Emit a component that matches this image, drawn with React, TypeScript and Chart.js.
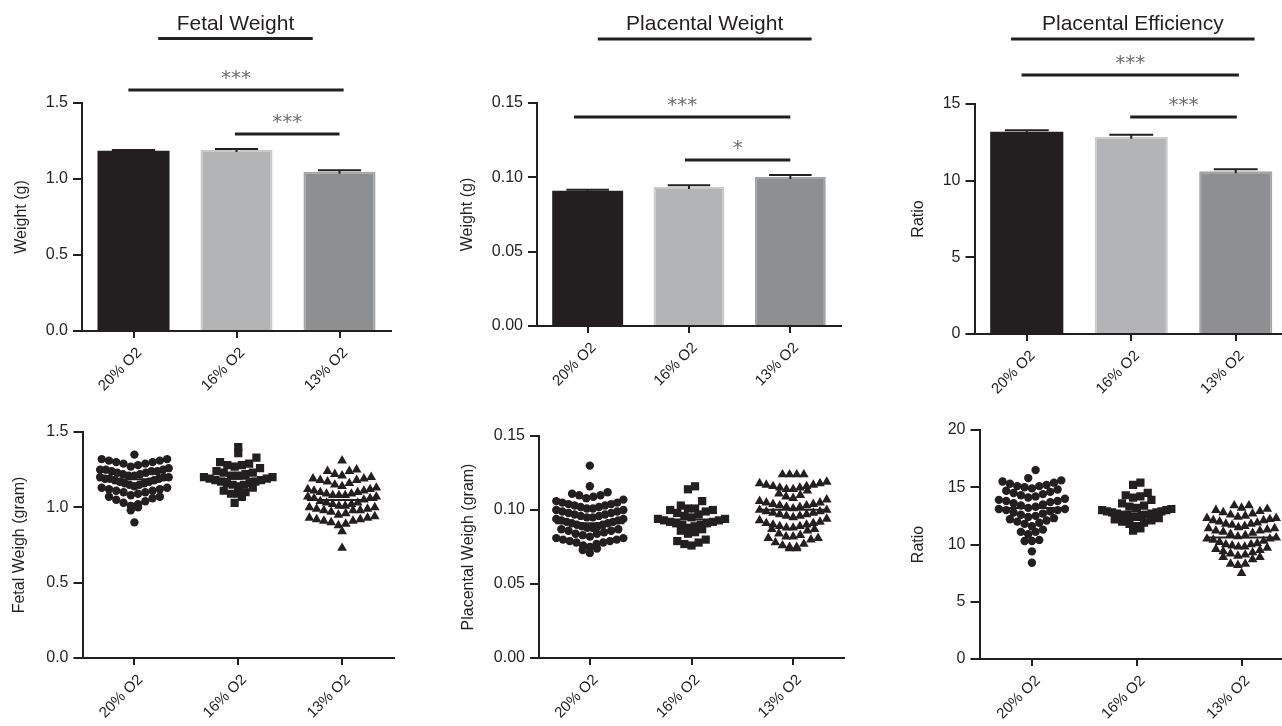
import React, { useEffect, useRef } from 'react';
import { Chart, registerables } from 'chart.js';

Chart.register(...registerables);

const INK = '#231f20';
const STAR = '#6d6e71';
const FONT = "'Liberation Sans', Arial, Helvetica, sans-serif";
const STAR_FONT = "'DejaVu Sans', 'Liberation Sans', sans-serif";
Chart.defaults.font.family = FONT;

// ---------- data ----------
const categories = ['20% O2', '16% O2', '13% O2'];

const fetalMeans = [1.186, 1.19, 1.048];
const fetalSem = [0.004, 0.008, 0.009];
const placentalMeans = [0.091, 0.0935, 0.1002];
const placentalSem = [0.0007, 0.0012, 0.0014];
const ratioMeans = [13.19, 12.87, 10.61];
const ratioSem = [0.1, 0.12, 0.13];

const fetalTicks = [0, 0.5, 1.0, 1.5];
const placentalTicks = [0, 0.05, 0.1, 0.15];
const ratioBarTicks = [0, 5, 10, 15];
const ratioDotTicks = [0, 5, 10, 15, 20];

const fetal20 = [
  1.35,
  1.32, 1.32, 1.31, 1.31, 1.3, 1.3, 1.29, 1.29, 1.28,
  1.27, 1.26, 1.25, 1.25, 1.25, 1.24, 1.24, 1.24, 1.23, 1.23,
  1.22, 1.22, 1.21, 1.21, 1.2, 1.2, 1.2, 1.19, 1.19, 1.19, 1.18, 1.18,
  1.17, 1.17, 1.16, 1.16, 1.15, 1.15, 1.14, 1.13, 1.13,
  1.12, 1.12, 1.11, 1.11, 1.1, 1.1, 1.09, 1.08,
  1.07, 1.07, 1.06, 1.05, 1.04, 1.03,
  1.02, 1.01, 1.0, 0.98,
  0.9,
];
const fetal16 = [
  1.4, 1.36, 1.33, 1.3, 1.29, 1.28, 1.28, 1.27, 1.26, 1.24, 1.23, 1.23,
  1.22, 1.21, 1.21, 1.2, 1.2, 1.19, 1.19, 1.18, 1.18,
  1.17, 1.17, 1.16, 1.16, 1.15, 1.15, 1.14, 1.13,
  1.11, 1.1, 1.09, 1.09, 1.07, 1.03,
];
const fetal13 = [
  1.31, 1.25, 1.24, 1.24,
  1.22, 1.21, 1.2, 1.19, 1.19, 1.18, 1.18,
  1.17, 1.16, 1.15, 1.14, 1.13,
  1.12, 1.12, 1.11, 1.11, 1.1, 1.1, 1.09, 1.09, 1.08, 1.08, 1.08,
  1.07, 1.07, 1.06, 1.06, 1.05, 1.04, 1.03, 1.03,
  1.02, 1.02, 1.01, 1.01, 1.0, 1.0, 0.99, 0.99, 0.98, 0.98, 0.98,
  0.97, 0.96, 0.95, 0.94, 0.93, 0.93,
  0.92, 0.92, 0.91, 0.91, 0.9, 0.89, 0.88,
  0.84, 0.73,
];

const placental20 = [
  0.13, 0.116,
  0.112, 0.111, 0.11, 0.11, 0.109, 0.108,
  0.107, 0.106, 0.105, 0.105, 0.104, 0.104, 0.103, 0.103,
  0.102, 0.102, 0.101, 0.101, 0.1, 0.1, 0.099, 0.099, 0.098, 0.098,
  0.097, 0.097, 0.096, 0.096, 0.095, 0.095, 0.094, 0.094, 0.093, 0.093, 0.092,
  0.092, 0.091, 0.091, 0.09, 0.09, 0.089, 0.089, 0.088, 0.088,
  0.087, 0.087, 0.086, 0.086, 0.085, 0.084, 0.084, 0.083,
  0.082, 0.081, 0.081, 0.08, 0.08, 0.079, 0.079, 0.078, 0.078,
  0.077, 0.076, 0.075, 0.074, 0.073, 0.071,
];
const placental16 = [
  0.116, 0.114, 0.106, 0.103,
  0.101, 0.101, 0.1, 0.1, 0.099, 0.098,
  0.097, 0.096, 0.095, 0.094, 0.094, 0.093, 0.093,
  0.092, 0.092, 0.091, 0.091, 0.09, 0.09, 0.089, 0.088,
  0.087, 0.086, 0.085, 0.084, 0.08, 0.079, 0.078, 0.077, 0.076,
];
const placental13 = [
  0.124, 0.124, 0.124, 0.124,
  0.119, 0.118, 0.118,
  0.117, 0.117, 0.116, 0.116, 0.115, 0.115, 0.114, 0.114, 0.113,
  0.111, 0.11, 0.109, 0.108,
  0.107, 0.106, 0.105, 0.105, 0.104, 0.104, 0.103, 0.103,
  0.102, 0.102, 0.101, 0.1, 0.1, 0.099, 0.099, 0.098, 0.098,
  0.097, 0.097, 0.096, 0.096, 0.095, 0.094, 0.093,
  0.092, 0.091, 0.091, 0.09, 0.09, 0.089, 0.089, 0.088, 0.088,
  0.087, 0.087, 0.086, 0.084, 0.083,
  0.082, 0.082, 0.081, 0.081, 0.08, 0.078,
  0.077, 0.076, 0.075, 0.075, 0.074, 0.074,
];

const ratio20 = [
  16.5,
  15.8, 15.6, 15.5, 15.4, 15.3,
  15.2, 15.1, 15.1, 15.0, 14.9, 14.8, 14.7,
  14.6, 14.5, 14.4, 14.3, 14.2, 14.1, 14.0,
  13.9, 13.8, 13.8, 13.7, 13.6, 13.5, 13.4,
  13.3, 13.2, 13.1, 13.1, 13.0, 13.0, 12.9, 12.8, 12.7,
  12.6, 12.5, 12.4, 12.3, 12.2, 12.1,
  12.0, 11.9, 11.8, 11.6,
  11.3, 11.1, 11.1, 10.9,
  10.4, 10.3, 10.3,
  9.4, 8.4,
];
const ratio16 = [
  15.4, 15.2, 14.5, 14.3, 14.2, 14.1, 13.9, 13.6, 13.4,
  13.3, 13.2, 13.1, 13.0, 13.0, 12.9, 12.9, 12.8, 12.8, 12.7, 12.7,
  12.6, 12.6, 12.5, 12.5, 12.4, 12.4, 12.3, 12.2, 12.1,
  12.0, 11.9, 11.8, 11.6, 11.4, 11.2,
];
const ratio13 = [
  13.4, 13.4,
  13.2, 13.1, 13.0, 12.9, 12.8, 12.7,
  12.6, 12.5, 12.4, 12.3, 12.3, 12.2, 12.1, 12.1,
  12.0, 11.9, 11.8, 11.8, 11.7, 11.6, 11.5, 11.4, 11.4,
  11.3, 11.2, 11.2, 11.1, 11.0, 10.9, 10.8,
  10.7, 10.6, 10.5, 10.5, 10.4, 10.3, 10.2, 10.1,
  10.0, 10.0, 9.9, 9.8, 9.8, 9.7, 9.6, 9.5,
  9.4, 9.3, 9.2, 9.1, 9.0, 8.9, 8.9,
  8.7, 8.3, 8.3, 8.2,
  7.5,
];

// significance bars / headings, in (category index, value) units
const fetalHeading = { text: 'Fetal Weight', from: 0.24, to: 1.74, y: 1.924 };
const fetalSig = [
  { from: -0.05, to: 2.04, y: 1.585, label: '***' },
  { from: 0.985, to: 2.0, y: 1.296, label: '***' },
];
const placentalHeading = { text: 'Placental Weight', from: 0.1, to: 2.21, y: 0.193 };
const placentalSig = [
  { from: -0.135, to: 2.0, y: 0.1406, label: '***' },
  { from: 0.96, to: 2.0, y: 0.1117, label: '*' },
];
const ratioHeading = { text: 'Placental Efficiency', from: -0.15, to: 2.18, y: 19.24 };
const ratioSig = [
  { from: -0.05, to: 2.03, y: 16.89, label: '***' },
  { from: 0.99, to: 2.01, y: 14.15, label: '***' },
];

// ---------- styles ----------
const barFill = ['#231f20', '#b3b4b6', '#8e8f91'];
const barEdge = ['#231f20', '#c9cacc', '#a3a4a6'];
const barEdgeWidth = [0, 2, 2];
const markerStyles = ['circle', 'rect', 'triangle'];
const markerRadius = [4.2, 5.8, 5.6];

type Sig = { from: number; to: number; y: number; label: string };
type Heading = { text: string; from: number; to: number; y: number };
type Box = { cx: number; cy: number; l: number; r: number; t: number; b: number; gap: number };
type Spec = {
  kind: 'bar' | 'dot';
  box: Box;
  ticks: number[];
  decimals: number;
  yTitle: string;
  means: number[];
  sems?: number[];
  groups?: number[][];
  bin?: number;
  heading?: Heading;
  sig?: Sig[];
};

// GraphPad-like column scatter: values grouped in rows, lowest value of a row in the middle
function swarm(values: number[], center: number, bin: number, step = 0.07, maxHalf = 0.33) {
  const rows = new Map<number, number[]>();
  values.forEach((v) => {
    const k = Math.round(v / bin);
    if (!rows.has(k)) rows.set(k, []);
    rows.get(k)!.push(v);
  });
  const pts: { x: number; y: number }[] = [];
  rows.forEach((row) => {
    const sorted = [...row].sort((a, b) => a - b);
    const n = sorted.length;
    const s = n > 1 ? Math.min(step, (2 * maxHalf) / (n - 1)) : 0;
    const slots = Array.from({ length: n }, (_, k) => (k - (n - 1) / 2) * s).sort(
      (a, b) => Math.abs(a) - Math.abs(b) || a - b
    );
    sorted.forEach((v, j) => pts.push({ x: center + slots[j], y: v }));
  });
  return pts;
}

function annotations(spec: Spec) {
  return {
    id: 'annotations',
    afterDatasetsDraw(chart: any) {
      const ctx: CanvasRenderingContext2D = chart.ctx;
      const xs = chart.scales.x;
      const ys = chart.scales.y;
      ctx.save();
      ctx.strokeStyle = INK;
      ctx.fillStyle = INK;
      if (spec.kind === 'bar') {
        const meta = chart.getDatasetMeta(0);
        meta.data.forEach((el: any, i: number) => {
          const top = ys.getPixelForValue(spec.means[i] + (spec.sems ? spec.sems[i] : 0));
          const base = ys.getPixelForValue(spec.means[i]);
          const half = el.width * 0.3;
          ctx.lineWidth = 2;
          ctx.beginPath();
          ctx.moveTo(el.x, base + 2);
          ctx.lineTo(el.x, top);
          ctx.moveTo(el.x - half, top);
          ctx.lineTo(el.x + half, top);
          ctx.stroke();
        });
      } else {
        spec.means.forEach((m, i) => {
          const y = ys.getPixelForValue(m);
          ctx.lineWidth = 2;
          ctx.beginPath();
          ctx.moveTo(xs.getPixelForValue(i - 0.34), y);
          ctx.lineTo(xs.getPixelForValue(i + 0.34), y);
          ctx.stroke();
        });
      }
      if (spec.heading) {
        const h = spec.heading;
        const x1 = xs.getPixelForValue(h.from);
        const x2 = xs.getPixelForValue(h.to);
        const y = ys.getPixelForValue(h.y);
        ctx.lineWidth = 3;
        ctx.beginPath();
        ctx.moveTo(x1, y);
        ctx.lineTo(x2, y);
        ctx.stroke();
        ctx.font = `21px ${FONT}`;
        ctx.textAlign = 'center';
        ctx.textBaseline = 'alphabetic';
        ctx.fillText(h.text, (x1 + x2) / 2, y - 9);
      }
      (spec.sig || []).forEach((s) => {
        const x1 = xs.getPixelForValue(s.from);
        const x2 = xs.getPixelForValue(s.to);
        const y = ys.getPixelForValue(s.y);
        ctx.strokeStyle = INK;
        ctx.lineWidth = 3;
        ctx.beginPath();
        ctx.moveTo(x1, y);
        ctx.lineTo(x2, y);
        ctx.stroke();
        ctx.fillStyle = STAR;
        ctx.font = `20px ${STAR_FONT}`;
        ctx.textAlign = 'center';
        ctx.textBaseline = 'alphabetic';
        ctx.fillText(s.label, (x1 + x2) / 2, y - 6);
      });
      ctx.restore();
    },
  };
}

function yAxis(spec: Spec) {
  const ticks = spec.ticks;
  return {
    type: 'linear',
    min: ticks[0],
    max: ticks[ticks.length - 1],
    afterBuildTicks: (s: any) => {
      s.ticks = ticks.map((v) => ({ value: v }));
    },
    afterFit: (s: any) => {
      s.width = spec.box.gap + 14;
    },
    grid: { drawOnChartArea: false, drawTicks: true, tickLength: 9, lineWidth: 2, color: INK },
    border: { display: true, color: INK, width: 2 },
    ticks: {
      color: INK,
      font: { size: 16, family: FONT },
      padding: 5,
      callback: (v: any) => Number(v).toFixed(spec.decimals),
    },
    title: {
      display: true,
      text: spec.yTitle,
      color: INK,
      font: { size: 16, family: FONT },
      padding: { top: 4, bottom: 4 },
    },
  };
}

const xTicks = {
  color: INK,
  font: { size: 15, family: FONT },
  minRotation: 45,
  maxRotation: 45,
  autoSkip: false,
  padding: 6,
  labelOffset: 6,
};

function buildConfig(spec: Spec): any {
  const b = spec.box;
  const yW = b.gap + 14;
  const common = {
    responsive: false,
    animation: false,
    events: [],
    layout: { padding: { left: b.l - b.cx - yW, top: b.t - b.cy, right: 20, bottom: 0 } },
    plugins: { legend: { display: false }, tooltip: { enabled: false }, title: { display: false } },
  };
  if (spec.kind === 'bar') {
    return {
      type: 'bar',
      data: {
        labels: categories,
        datasets: [
          {
            data: spec.means,
            backgroundColor: barFill,
            borderColor: barEdge,
            borderWidth: barEdgeWidth,
            barPercentage: 0.7,
            categoryPercentage: 1,
          },
        ],
      },
      options: {
        ...common,
        scales: {
          x: {
            type: 'category',
            offset: true,
            afterFit: (s: any) => {
              s.height = 70;
            },
            grid: { offset: false, drawOnChartArea: false, tickLength: 7, lineWidth: 2, color: INK },
            border: { display: true, color: INK, width: 2 },
            ticks: xTicks,
          },
          y: yAxis(spec),
        },
      },
      plugins: [annotations(spec)],
    };
  }
  return {
    type: 'scatter',
    data: {
      datasets: (spec.groups || []).map((g, i) => ({
        data: swarm(g, i, spec.bin || 1),
        pointStyle: markerStyles[i],
        pointRadius: markerRadius[i],
        backgroundColor: INK,
        borderColor: INK,
        borderWidth: 0,
      })),
    },
    options: {
      ...common,
      scales: {
        x: {
          type: 'linear',
          min: -0.5,
          max: 2.5,
          afterBuildTicks: (s: any) => {
            s.ticks = categories.map((_, i) => ({ value: i }));
          },
          afterFit: (s: any) => {
            s.height = 70;
          },
          grid: { drawOnChartArea: false, tickLength: 7, lineWidth: 2, color: INK },
          border: { display: true, color: INK, width: 2 },
          ticks: { ...xTicks, callback: (v: any) => categories[Math.round(Number(v))] ?? '' },
        },
        y: yAxis(spec),
      },
    },
    plugins: [annotations(spec)],
  };
}

const specs: Spec[] = [
  {
    kind: 'bar',
    box: { cx: 0, cy: 0, l: 82, r: 391, t: 103, b: 331, gap: 60 },
    ticks: fetalTicks,
    decimals: 1,
    yTitle: 'Weight (g)',
    means: fetalMeans,
    sems: fetalSem,
    heading: fetalHeading,
    sig: fetalSig,
  },
  {
    kind: 'bar',
    box: { cx: 440, cy: 0, l: 537, r: 841, t: 103, b: 326, gap: 69 },
    ticks: placentalTicks,
    decimals: 2,
    yTitle: 'Weight (g)',
    means: placentalMeans,
    sems: placentalSem,
    heading: placentalHeading,
    sig: placentalSig,
  },
  {
    kind: 'bar',
    box: { cx: 880, cy: 0, l: 974.5, r: 1288, t: 104, b: 334, gap: 56 },
    ticks: ratioBarTicks,
    decimals: 0,
    yTitle: 'Ratio',
    means: ratioMeans,
    sems: ratioSem,
    heading: ratioHeading,
    sig: ratioSig,
  },
  {
    kind: 'dot',
    box: { cx: 0, cy: 395, l: 82.5, r: 394, t: 432, b: 658, gap: 63 },
    ticks: fetalTicks,
    decimals: 1,
    yTitle: 'Fetal Weigh (gram)',
    means: fetalMeans,
    groups: [fetal20, fetal16, fetal13],
    bin: 0.065,
  },
  {
    kind: 'dot',
    box: { cx: 440, cy: 395, l: 539, r: 844, t: 436, b: 658, gap: 70 },
    ticks: placentalTicks,
    decimals: 2,
    yTitle: 'Placental Weigh (gram)',
    means: placentalMeans,
    groups: [placental20, placental16, placental13],
    bin: 0.0065,
  },
  {
    kind: 'dot',
    box: { cx: 880, cy: 395, l: 979.5, r: 1293.5, t: 430, b: 659, gap: 61 },
    ticks: ratioDotTicks,
    decimals: 0,
    yTitle: 'Ratio',
    means: ratioMeans,
    groups: [ratio20, ratio16, ratio13],
    bin: 0.85,
  },
];

function Panel({ spec }: { spec: Spec }) {
  const ref = useRef<HTMLCanvasElement>(null);
  const b = spec.box;
  const W = Math.ceil(b.r - b.cx + 20);
  const H = Math.ceil(b.b - b.cy + 70);
  useEffect(() => {
    if (!ref.current) return;
    const chart = new Chart(ref.current, buildConfig(spec));
    return () => chart.destroy();
  }, [spec]);
  return (
    <canvas
      ref={ref}
      width={W}
      height={H}
      style={{ position: 'absolute', left: b.cx, top: b.cy, width: W, height: H, display: 'block' }}
    />
  );
}

export default function App() {
  return (
    <div
      style={{
        position: 'fixed',
        left: 0,
        top: 0,
        width: 1282,
        height: 726,
        overflow: 'hidden',
        background: '#ffffff',
      }}
    >
      {specs.map((s, i) => (
        <Panel key={i} spec={s} />
      ))}
    </div>
  );
}
